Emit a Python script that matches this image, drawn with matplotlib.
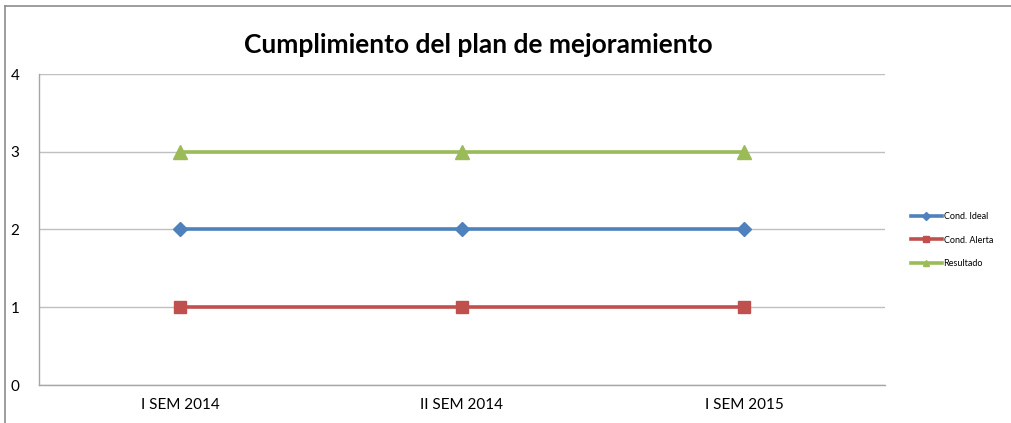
import matplotlib
matplotlib.use("Agg")
import matplotlib.pyplot as plt
from matplotlib.lines import Line2D

categories = ["I SEM 2014", "II SEM 2014", "I SEM 2015"]
cond_ideal = [2, 2, 2]
cond_alerta = [1, 1, 1]
resultado = [3, 3, 3]
series_names = ["Cond. Ideal", "Cond. Alerta", "Resultado"]
y_ticks = [0, 1, 2, 3, 4]

plt.rcParams['font.family'] = ['Lato', 'DejaVu Sans']

W, H = 1012, 423
fig = plt.figure(figsize=(W / 100, H / 100), dpi=100)
ax = fig.add_axes([39 / W, 1 - 385 / H, (885 - 39) / W, (385 - 74) / H])

x = [i + 0.5 for i in range(len(categories))]
blue, red, green = "#4F81BD", "#C0504D", "#9BBB59"
ax.plot(x, cond_ideal, color=blue, lw=2.6, marker="D", ms=7.5, label=series_names[0], zorder=3)
ax.plot(x, cond_alerta, color=red, lw=2.6, marker="s", ms=8.8, label=series_names[1], zorder=3)
ax.plot(x, resultado, color=green, lw=2.6, marker="^", ms=9.5, label=series_names[2], zorder=3)

ax.set_xlim(0, 3)
ax.set_ylim(0, 4)
ax.set_yticks(y_ticks)
ax.set_xticks(x)
ax.set_xticklabels(categories)
ax.grid(axis="y", color="#bfbfbf", lw=1)
ax.set_axisbelow(True)
for s in ["top", "right"]:
    ax.spines[s].set_visible(False)
for s in ["left", "bottom"]:
    ax.spines[s].set_color("#a6a6a6")
    ax.spines[s].set_linewidth(1)
ax.tick_params(axis="both", length=0, labelsize=11, colors="black")
ax.tick_params(axis="y", pad=14)
ax.tick_params(axis="x", pad=9)

fig.text(478 / W, 1 - 45 / H, "Cumplimiento del plan de mejoramiento",
         ha="center", va="center", fontsize=19, fontweight="bold")

handles = [Line2D([], [], color=blue, lw=2.6, marker="D", ms=4),
           Line2D([], [], color=red, lw=2.6, marker="s", ms=5),
           Line2D([], [], color=green, lw=2.6, marker="^", ms=5)]
fig.legend(handles, series_names, loc="center left",
           bbox_to_anchor=(903 / W, 1 - 240 / H), frameon=False,
           fontsize=6.5, handlelength=3.4, handletextpad=0.2, labelspacing=1.6)

# chart border
fig.add_artist(Line2D([5 / W, 5 / W], [0, 1 - 6 / H], transform=fig.transFigure, color="#8c8c8c", lw=1.2))
fig.add_artist(Line2D([5 / W, 1], [1 - 6 / H, 1 - 6 / H], transform=fig.transFigure, color="#8c8c8c", lw=1.2))

fig.savefig("out.png", dpi=100)
